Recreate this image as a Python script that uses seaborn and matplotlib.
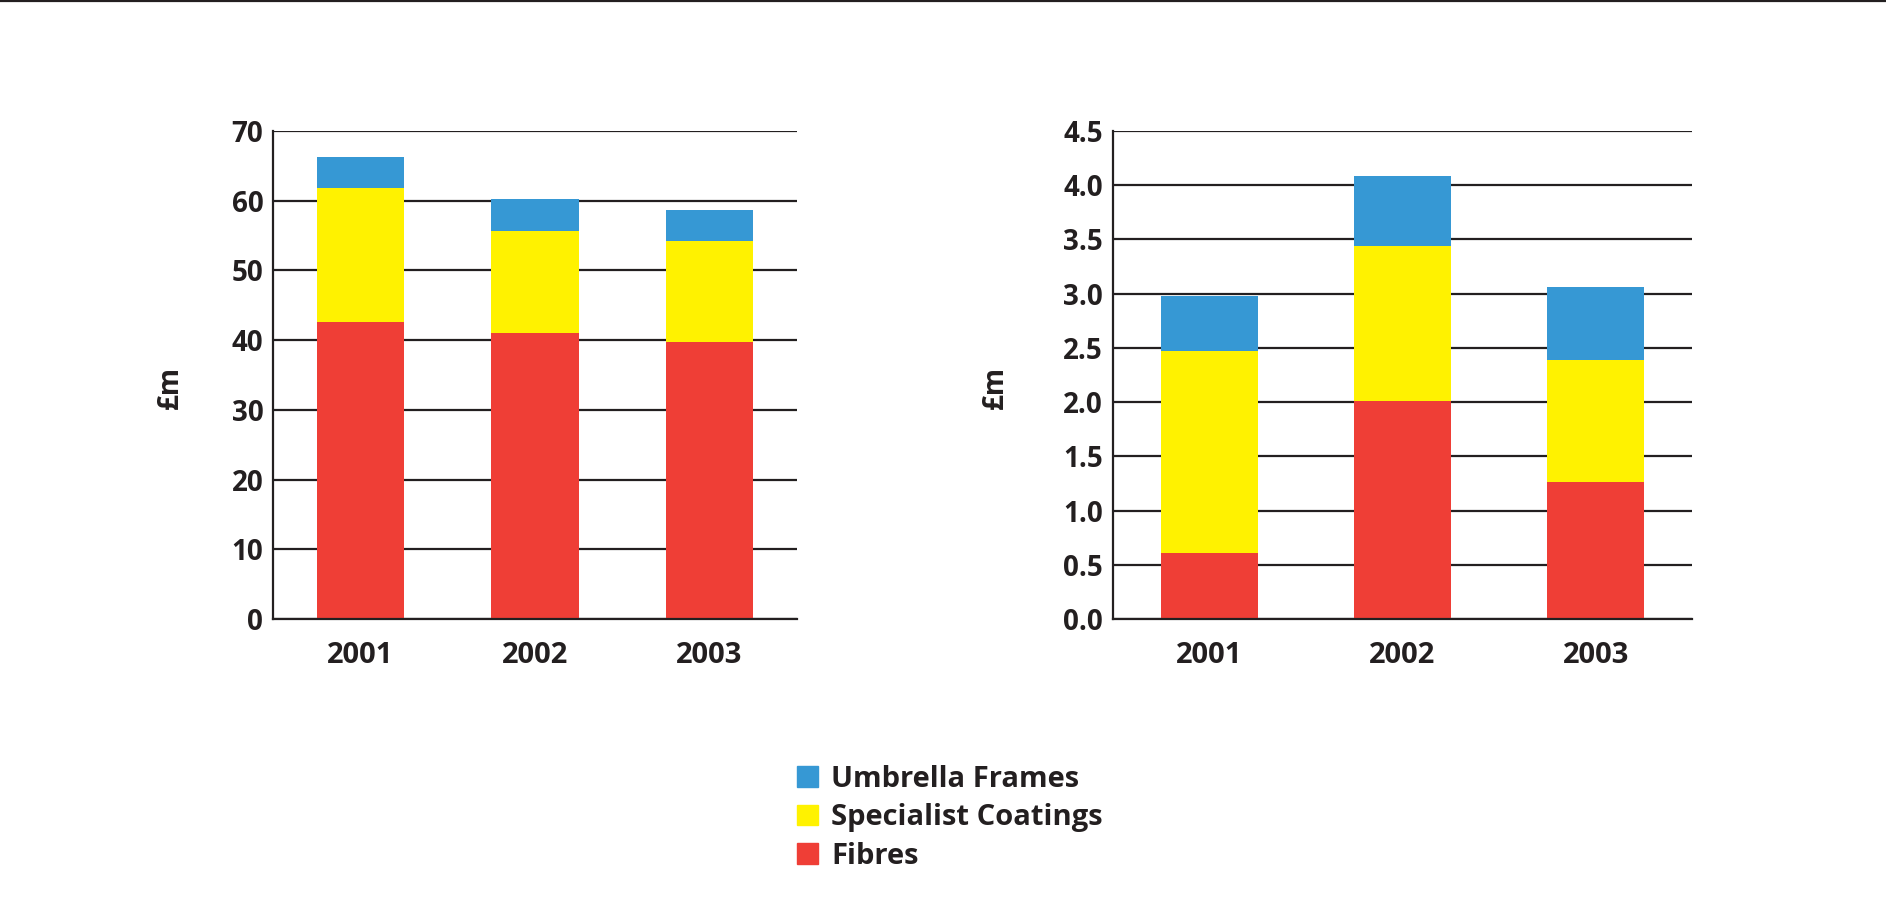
import matplotlib
matplotlib.use("Agg")
import matplotlib.pyplot as plt
import matplotlib.patches as mpatches
from matplotlib.lines import Line2D
from matplotlib.ticker import FixedLocator, FormatStrFormatter
import pandas as pd
import seaborn as sns

# ---- data -------------------------------------------------------------
years = ["2001", "2002", "2003"]
series_names = ["Fibres", "Specialist Coatings", "Umbrella Frames"]

# Group (left panel), £m
group_fibres = [42.6, 41.0, 39.8]
group_coatings = [19.2, 14.6, 14.4]
group_umbrella = [4.5, 4.6, 4.5]

# Second panel (right), £m
small_fibres = [0.61, 2.01, 1.26]
small_coatings = [1.86, 1.43, 1.13]
small_umbrella = [0.51, 0.65, 0.67]

left_ticks = [0, 10, 20, 30, 40, 50, 60, 70]
right_ticks = [0.0, 0.5, 1.0, 1.5, 2.0, 2.5, 3.0, 3.5, 4.0, 4.5]

colors = {"Fibres": "#ef3e36", "Specialist Coatings": "#fff200", "Umbrella Frames": "#3698d4"}
ink = "#231f20"

sns.set_theme(style="white")
plt.rcParams["font.family"] = ["Open Sans", "DejaVu Sans"]
plt.rcParams["font.weight"] = "bold"

fig = plt.figure(figsize=(18.86, 9.05), dpi=100)
fig.patch.set_facecolor("white")

# rule across the top edge
fig.add_artist(Line2D([0, 1], [0.9985, 0.9985], transform=fig.transFigure, color=ink, lw=1.6))


def stacked_panel(ax, fibres, coatings, umbrella, ticks, fmt, label_x):
    df = pd.DataFrame({"year": years, "Fibres": fibres,
                       "Specialist Coatings": coatings, "Umbrella Frames": umbrella})
    df["c1"] = df["Fibres"]
    df["c2"] = df["c1"] + df["Specialist Coatings"]
    df["c3"] = df["c2"] + df["Umbrella Frames"]
    # draw tallest cumulative first so each lower segment sits on top
    for col, name in [("c3", "Umbrella Frames"), ("c2", "Specialist Coatings"), ("c1", "Fibres")]:
        sns.barplot(data=df, x="year", y=col, order=years, color=colors[name],
                    saturation=1, width=0.5, ax=ax, zorder=3, linewidth=0)
    ax.set_xlim(-0.5, 2.5)
    ax.set_ylim(ticks[0], ticks[-1])
    ax.yaxis.set_major_locator(FixedLocator(ticks))
    ax.yaxis.set_major_formatter(FormatStrFormatter(fmt))
    ax.grid(axis="y", color=ink, lw=1.6, zorder=1)
    ax.set_axisbelow(True)
    for s in ["top", "right"]:
        ax.spines[s].set_visible(False)
    for s in ["left", "bottom"]:
        ax.spines[s].set_color(ink)
        ax.spines[s].set_linewidth(1.6)
        ax.spines[s].set_zorder(4)
    ax.tick_params(axis="y", length=0, pad=7, labelsize=20, labelcolor=ink)
    ax.tick_params(axis="x", which="major", length=0, pad=16, labelsize=21, labelcolor=ink)
    ax.xaxis.set_minor_locator(FixedLocator([0.5, 1.5, 2.5]))
    ax.tick_params(axis="x", which="minor", direction="in", length=8, width=1.4, color=ink)
    for lbl in ax.get_xticklabels() + ax.get_yticklabels():
        lbl.set_fontweight("bold")
    ax.set_xlabel("")
    ax.set_ylabel("£m", fontsize=20, fontweight="bold", color=ink)
    ax.yaxis.set_label_coords(label_x, 0.475)


ax1 = fig.add_axes([0.14475, 0.3160, 0.2777, 0.5392])
stacked_panel(ax1, group_fibres, group_coatings, group_umbrella, left_ticks, "%d", -0.168)

ax2 = fig.add_axes([0.5900, 0.3160, 0.3073, 0.5392])
stacked_panel(ax2, small_fibres, small_coatings, small_umbrella, right_ticks, "%.1f", -0.177)

handles = [mpatches.Patch(color=colors[n], label=n) for n in reversed(series_names)]
fig.legend(handles=handles, loc="center left", bbox_to_anchor=(0.4226, 0.0965),
           frameon=False, prop={"size": 21, "weight": "bold"},
           handlelength=0.72, handleheight=0.72, handletextpad=0.45,
           labelspacing=0.33, labelcolor=ink, borderpad=0, borderaxespad=0)

fig.savefig("out.png", dpi=100, facecolor="white")
